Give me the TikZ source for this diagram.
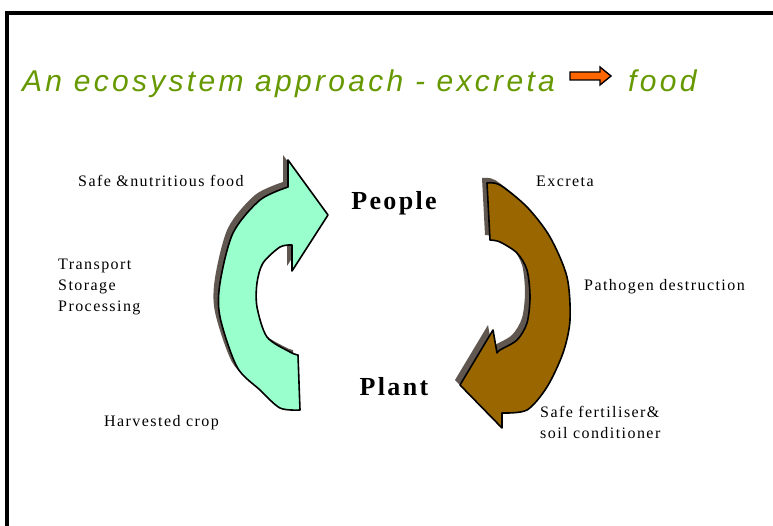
\documentclass[tikz,border=0pt]{standalone}
\usepackage{fontspec}
\setmainfont{Liberation Serif}
\newfontfamily\titlefont[LetterSpace=11]{Liberation Sans}
\newfontfamily\lblfont[LetterSpace=9]{Liberation Serif}
\usepackage{tikz}
\usetikzlibrary{positioning, calc}
\definecolor{titlegreen}{HTML}{669900}
\definecolor{mint}{HTML}{99FFCC}
\definecolor{dung}{HTML}{996600}
\definecolor{shade}{HTML}{605850}
\definecolor{tangerine}{HTML}{FF6600}

% outline of the two curved arrows
\newcommand{\foodloop}{(300,410) -- (298,355)
  -- plot[smooth] coordinates {(298,355) (290,352) (267,337) (257,307) (257,283) (263,263) (280,247) (292,245)}
  -- (292,271) -- (328,215) -- (288,160) -- (288,187)
  -- plot[smooth] coordinates {(288,187) (260,200) (233,233) (220,283) (220,317) (237,367) (260,390) (280,408) (300,410)}
  -- cycle}
\newcommand{\wasteloop}{(487,183) -- (490,240)
  -- plot[smooth] coordinates {(490,240) (500,242) (517,253) (527,270) (530,297) (527,323) (517,340) (500,350) (497,353)}
  -- (493,330) -- (460,385) -- (502,428) -- (502,413)
  -- plot[smooth] coordinates {(502,413) (527,410) (547,387) (563,353) (570,320) (567,277) (550,237) (527,207) (500,185) (487,183)}
  -- cycle}

\begin{document}
\begin{tikzpicture}
        [
            x=1pt, y=-1pt,
            title/.style={inner sep=0pt, anchor=base west, text=titlegreen,
                          font=\titlefont\itshape\fontsize{30}{35}\selectfont},
            lbl/.style={inner sep=0pt, anchor=west, align=left,
                        font=\lblfont\fontsize{16}{21}\selectfont},
            big/.style={inner sep=0pt, font=\lblfont\bfseries\fontsize{26}{30}\selectfont},
            shadowed/.style={fill=shade, shift={(-5,-5)}},
            loop/.style={draw=black, line width=1.6pt, line join=round}
        ]
        \useasboundingbox (0,0) rectangle (773,526);
        \fill[white] (0,0) rectangle (773,526);
        \draw[line width=4pt] (7,526) -- (7,13) -- (773,13);

        % heading
        \node (head) [title] at (22,92) {An ecosystem approach - excreta};
        \node (food) [title] at (628,92) {food};
        \draw[fill=tangerine, line width=1.4pt, line join=miter]
            (570,72) -- (600,72) -- (600,67) -- (611,76) -- (600,85)
            -- (600,80) -- (570,80) -- cycle;

        % the two loops
        \fill[shadowed] \foodloop;
        \fill[shadowed] \wasteloop;
        \filldraw[loop, fill=mint] \foodloop;
        \filldraw[loop, fill=dung] \wasteloop;

        \node (people) [big] at (394,203) {People};
        \node (plant) [big] at (394,387) {Plant};

        \node (safe) [lbl] at (78,181) {Safe \&nutritious food};
        \node (chain) [lbl] at (58,287) {Transport\\Storage\\Processing};
        \node (crop) [lbl] at (104,423) {Harvested crop};
        \node (excreta) [lbl] at (536,181) {Excreta};
        \node (patho) [lbl] at (584,287) {Pathogen destruction};
        \node (fert) [lbl] at (540,422) {Safe fertiliser\&\\soil conditioner};
    \end{tikzpicture}
\end{document}
